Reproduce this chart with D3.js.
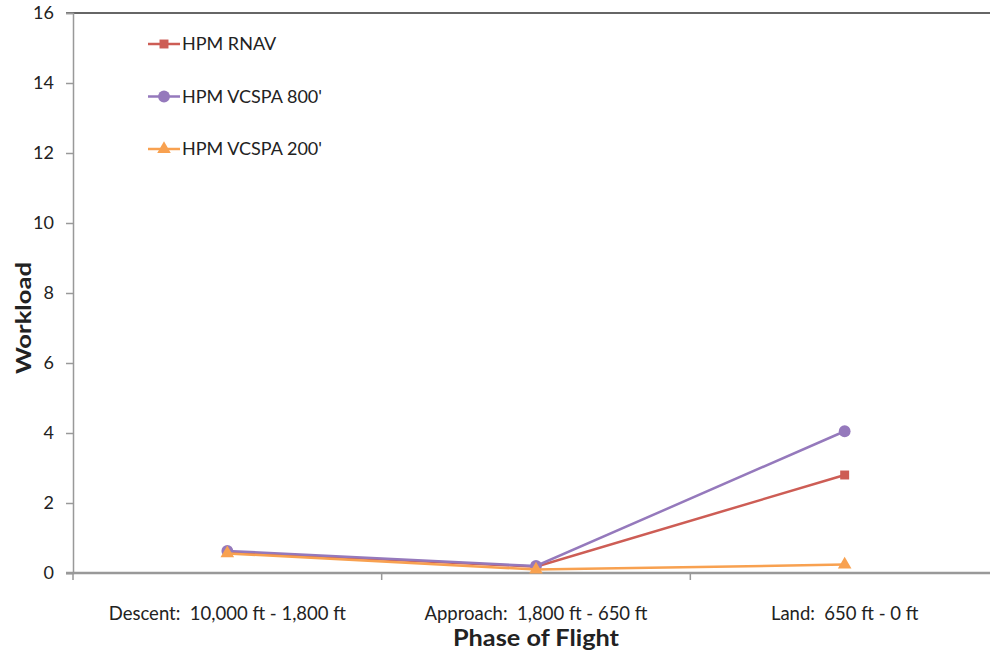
<!DOCTYPE html>
<html>
<head>
<meta charset="utf-8">
<script src="https://cdn.jsdelivr.net/npm/d3@7"></script>
<style>
  body { margin: 0; background: #fff; }
  text { font-family: Lato, "Open Sans", sans-serif; fill: #222; white-space: pre; }
</style>
</head>
<body>
<svg id="chart" width="990" height="653"></svg>
<script>
// chart data
const phases = ['Descent:  10,000 ft - 1,800 ft', 'Approach:  1,800 ft - 650 ft', 'Land:  650 ft - 0 ft'];
const rnav = [0.6, 0.18, 2.8];
const vcspa800 = [0.63, 0.2, 4.05];
const vcspa200 = [0.56, 0.1, 0.24];
const yTicks = [0, 2, 4, 6, 8, 10, 12, 14, 16];

const series = [
  { name: 'HPM RNAV', values: rnav, color: '#CD5D55', symbol: d3.symbolSquare, size: 80 },
  { name: "HPM VCSPA 800'", values: vcspa800, color: '#9579BC', symbol: d3.symbolCircle, size: 110 },
  { name: "HPM VCSPA 200'", values: vcspa200, color: '#F8A150', symbol: d3.symbolTriangle, size: 80 }
];

const svg = d3.select('#chart');
const margin = { top: 13, left: 73, bottom: 80 };
const height = 653;

const x = d3.scaleBand()
  .domain(d3.range(phases.length))
  .range([margin.left, 999]);

const y = d3.scaleLinear()
  .domain([0, 16])
  .range([height - margin.bottom, margin.top]);

// top border
svg.append('line')
  .attr('x1', 66).attr('x2', 990)
  .attr('y1', y(16)).attr('y2', y(16))
  .attr('stroke', '#333').attr('stroke-width', 1.5);

// y axis
const yAxis = svg.append('g')
  .attr('transform', `translate(${margin.left},0)`)
  .call(d3.axisLeft(y).tickValues(yTicks).tickSize(7).tickPadding(12));
yAxis.select('.domain').attr('stroke', '#999').attr('stroke-width', 1.5);
yAxis.selectAll('.tick line').attr('stroke', '#999').attr('stroke-width', 1.5);
yAxis.selectAll('.tick text')
  .style('font-size', '18px')
  .style('font-family', 'Lato, "Open Sans", sans-serif')
  .attr('fill', '#222');

// x axis
const xAxis = svg.append('g')
  .attr('transform', `translate(0,${y(0)})`)
  .call(d3.axisBottom(x).tickSize(0).tickFormat(i => phases[i]));
xAxis.select('.domain').remove();
xAxis.append('line')
  .attr('x1', 66).attr('x2', 990)
  .attr('stroke', '#999').attr('stroke-width', 2.5);
xAxis.selectAll('.tick text')
  .attr('y', 34)
  .style('font-size', '18.5px')
  .style('font-family', 'Lato, "Open Sans", sans-serif')
  .attr('fill', '#222');
// tick marks at band boundaries
xAxis.selectAll('.bound')
  .data(d3.range(phases.length))
  .enter().append('line')
  .attr('x1', d => x(d)).attr('x2', d => x(d))
  .attr('y1', 0).attr('y2', 7)
  .attr('stroke', '#999').attr('stroke-width', 1.5);

const cx = i => x(i) + x.bandwidth() / 2;

const line = d3.line()
  .x((d, i) => cx(i))
  .y(d => y(d));

// draw lines and markers
series.forEach(s => {
  svg.append('path')
    .datum(s.values)
    .attr('fill', 'none')
    .attr('stroke', s.color)
    .attr('stroke-width', 2.5)
    .attr('d', line);

  svg.selectAll(null)
    .data(s.values)
    .enter().append('path')
    .attr('transform', (d, i) => `translate(${cx(i)},${y(d)})`)
    .attr('d', d3.symbol().type(s.symbol).size(s.size))
    .attr('fill', s.color);
});

// legend
const legend = svg.append('g').attr('transform', 'translate(148,44)');
series.forEach((s, i) => {
  const g = legend.append('g').attr('transform', `translate(0,${i * 52.5})`);
  g.append('line')
    .attr('x1', 0).attr('x2', 32)
    .attr('stroke', s.color).attr('stroke-width', 2.5);
  g.append('path')
    .attr('transform', 'translate(16,0)')
    .attr('d', d3.symbol().type(s.symbol).size(s.size))
    .attr('fill', s.color);
  g.append('text')
    .attr('x', 34).attr('dy', '0.36em')
    .style('font-size', '18px')
    .text(s.name);
});

// axis titles
svg.append('text')
  .attr('transform', 'translate(31,318) rotate(-90)')
  .attr('text-anchor', 'middle')
  .attr('textLength', 112)
  .attr('lengthAdjust', 'spacingAndGlyphs')
  .style('font-size', '21px')
  .style('font-weight', 'bold')
  .text('Workload');

svg.append('text')
  .attr('x', 536).attr('y', 646)
  .attr('text-anchor', 'middle')
  .attr('textLength', 166)
  .attr('lengthAdjust', 'spacingAndGlyphs')
  .style('font-size', '23px')
  .style('font-weight', 'bold')
  .text('Phase of Flight');
</script>
</body>
</html>
